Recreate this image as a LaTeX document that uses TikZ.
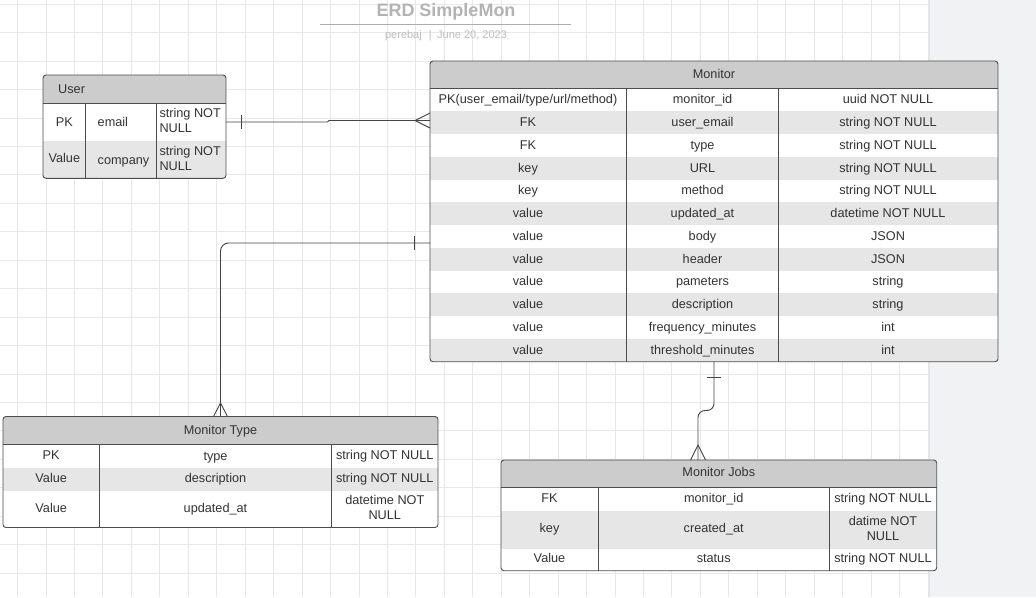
\documentclass[tikz,border=0pt]{standalone}
\usepackage{fontspec}
\setmainfont{Liberation Sans}
\definecolor{gridc}{HTML}{E8E8E8}
\definecolor{panelc}{HTML}{F1F2F4}
\definecolor{shadec}{HTML}{E4E5E8}
\definecolor{hdrc}{HTML}{CCCCCC}
\definecolor{altc}{HTML}{E6E6E6}
\definecolor{bordc}{HTML}{4D4D4D}
\definecolor{txtc}{HTML}{333333}
\definecolor{linec}{HTML}{444444}
\definecolor{titc}{HTML}{B3B3B3}
\definecolor{rulec}{HTML}{ADADAD}
\definecolor{subc}{HTML}{BDBDBD}
\newcommand\tfont{\fontsize{12.7}{15}\selectfont}
\begin{document}
\begin{tikzpicture}[x=1pt,y=-1pt,
  gridline/.style={draw=gridc, line width=0.8pt},
  tblbox/.style={draw=bordc, line width=0.9pt, rounded corners=3pt, inner sep=0, outer sep=0, anchor=north west},
  sep/.style={draw=bordc, line width=0.9pt},
  cell/.style={inner sep=0, text=txtc, font=\tfont, text height=9.1pt, text depth=0pt},
  celltwo/.style={inner sep=0, text=txtc, font=\tfont},
  conn/.style={draw=linec, line width=0.9pt},
]
\useasboundingbox (0,0) rectangle (1036,597);
\fill[white] (0,0) rectangle (1036,597);
% grid
\foreach \k in {0,...,31} \draw[gridline] ({17.5+28.45*\k},0) -- ({17.5+28.45*\k},597);
\foreach \k in {0,...,20} \draw[gridline] (0,{4.1+28.45*\k}) -- (928,{4.1+28.45*\k});
% right panel
\fill[panelc] (928,0) rectangle (1036,597);
\fill[shadec] (928,0) rectangle (930,597);

% title
\node[font=\bfseries\fontsize{18}{20}\selectfont, text=titc, inner sep=0] (title) at (446,12) {ERD SimpleMon};
\draw[rulec, line width=1pt] (320,24.3) -- (571,24.3);
\node[font=\fontsize{11}{13}\selectfont, text=subc, inner sep=0] (subtitle) at (446,35.5) {perebaj\hspace{7pt}|\hspace{5.5pt}June 20, 2023};

% ---------- User ----------
\begin{scope}
\clip[rounded corners=3pt] (43,75) rectangle (226,178.3);
\fill[white] (43,75) rectangle (226,178.3);
\fill[hdrc] (43,75) rectangle (226,103);
\fill[altc] (43,141) rectangle (226,178.3);
\end{scope}
\draw[sep] (43,103) -- (226,103) (85.5,103) -- (85.5,178.3) (156,103) -- (156,178.3);
\node[tblbox, minimum width=183pt, minimum height=103.3pt] (user) at (43,75) {};
\node[cell, anchor=west] (u0) at (58,88.5) {User};
\node[cell] (u11) at (64.3,121.5) {PK};
\node[cell, anchor=west] (u12) at (97.5,122) {email};
\node[celltwo, anchor=west, align=left] (u13) at (159.3,120.8) {string NOT\\NULL};
\node[cell] (u21) at (64.3,158) {Value};
\node[cell, anchor=west] (u22) at (97.5,160) {company};
\node[celltwo, anchor=west, align=left] (u23) at (159.3,158.5) {string NOT\\NULL};

% ---------- Monitor ----------
\begin{scope}
\clip[rounded corners=3pt] (430,61) rectangle (998,361.7);
\fill[white] (430,61) rectangle (998,361.7);
\fill[hdrc] (430,61) rectangle (998,88.7);
\foreach \i in {2,4,...,12} \fill[altc] (430,{88.7+22.75*(\i-1)}) rectangle (998,{88.7+22.75*\i});
\end{scope}
\draw[sep] (430,88.7) -- (998,88.7) (626.5,88.7) -- (626.5,361.7) (778.5,88.7) -- (778.5,361.7);
\node[tblbox, minimum width=568pt, minimum height=300.7pt] (monitor) at (430,61) {};
\node[cell] (m0) at (714,73.5) {Monitor};
\foreach \a/\b/\c [count=\i] in {
  {PK(user\_email/type/url/method)}/monitor\_id/uuid NOT NULL,
  FK/user\_email/string NOT NULL,
  FK/type/string NOT NULL,
  key/URL/string NOT NULL,
  key/method/string NOT NULL,
  value/updated\_at/datetime NOT NULL,
  value/body/JSON,
  value/header/JSON,
  value/pameters/string,
  value/description/string,
  value/frequency\_minutes/int,
  value/threshold\_minutes/int}
{
  \node[cell] (m\i a) at (528,{88.7+22.75*(\i-1)+10.6}) {\a};
  \node[cell] (m\i b) at (702.5,{88.7+22.75*(\i-1)+10.6}) {\b};
  \node[cell] (m\i c) at (888,{88.7+22.75*(\i-1)+10.6}) {\c};
}

% ---------- Monitor Type ----------
\begin{scope}
\clip[rounded corners=3pt] (3,416.5) rectangle (438,527.5);
\fill[white] (3,416.5) rectangle (438,527.5);
\fill[hdrc] (3,416.5) rectangle (438,444);
\fill[altc] (3,468) rectangle (438,491);
\end{scope}
\draw[sep] (3,444) -- (438,444) (99.3,444) -- (99.3,527.5) (331.7,444) -- (331.7,527.5);
\node[tblbox, minimum width=435pt, minimum height=111pt] (mtype) at (3,416.5) {};
\node[cell] (t0) at (220.5,429.5) {Monitor Type};
\node[cell] (t11) at (51.2,455) {PK};
\node[cell] (t12) at (215.5,455.5) {type};
\node[cell] (t13) at (384.8,455) {string NOT NULL};
\node[cell] (t21) at (51.2,478.3) {Value};
\node[cell] (t22) at (215.5,478.3) {description};
\node[cell] (t23) at (384.8,478.3) {string NOT NULL};
\node[cell] (t31) at (51.2,507.7) {Value};
\node[cell] (t32) at (215.5,507.7) {updated\_at};
\node[celltwo, align=center] (t33) at (384.8,507.5) {datetime NOT\\NULL};

% ---------- Monitor Jobs ----------
\begin{scope}
\clip[rounded corners=3pt] (501,460) rectangle (936.7,570.7);
\fill[white] (501,460) rectangle (936.7,570.7);
\fill[hdrc] (501,460) rectangle (936.7,487.5);
\fill[altc] (501,511) rectangle (936.7,549);
\end{scope}
\draw[sep] (501,487.5) -- (936.7,487.5) (598,487.5) -- (598,570.7) (829.3,487.5) -- (829.3,570.7);
\node[tblbox, minimum width=435.7pt, minimum height=110.7pt] (mjobs) at (501,460) {};
\node[cell] (j0) at (718.8,472.3) {Monitor Jobs};
\node[cell] (j11) at (549.5,498.3) {FK};
\node[cell] (j12) at (713.7,498.3) {monitor\_id};
\node[cell] (j13) at (883,498.3) {string NOT NULL};
\node[cell] (j21) at (549.5,528.3) {key};
\node[cell] (j22) at (713.7,528.3) {created\_at};
\node[celltwo, align=center] (j23) at (883,528.3) {datime NOT\\NULL};
\node[cell] (j31) at (549.5,558.3) {Value};
\node[cell] (j32) at (713.7,558.3) {status};
\node[cell] (j33) at (883,558.3) {string NOT NULL};

% ---------- connectors ----------
% User -- Monitor
\draw[conn] (user.east |- 0,122) -- (327.5,122) -- (329,120.5) -- (monitor.west |- 0,120.5);
\draw[conn] (241,115) -- (241,129);
\draw[conn] (monitor.west |- 0,113) -- (415,120.5) -- (monitor.west |- 0,128);
% Monitor -- Monitor Type
\draw[conn, rounded corners=8pt] (monitor.west |- 0,243) -- (220.5,243) -- (mtype.north -| 220.5,0);
\draw[conn] (414,236) -- (414,250);
\draw[conn] (213.5,416.5) -- (220.5,403) -- (227.5,416.5);
% Monitor -- Monitor Jobs
\draw[conn, rounded corners=7pt] (monitor.south -| 714,0) -- (714,410.5) -- (698,410.5) -- (mjobs.north -| 698,0);
\draw[conn] (707,377) -- (721,377);
\draw[conn] (690.5,460) -- (698,445) -- (705.5,460);
\end{tikzpicture}
\end{document}
